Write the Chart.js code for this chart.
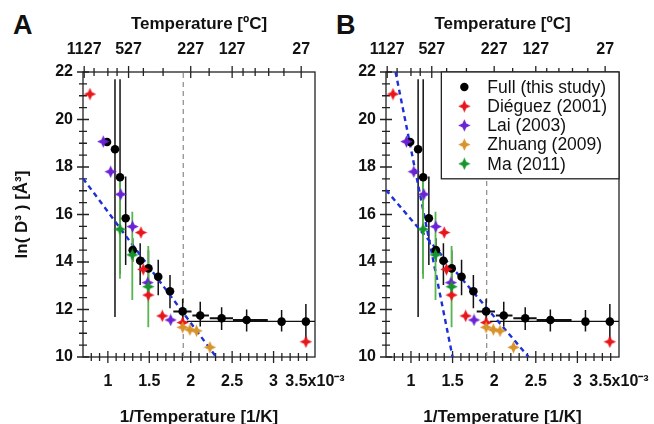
<!DOCTYPE html>
<html>
<head>
<meta charset="utf-8">
<script src="https://cdn.jsdelivr.net/npm/chart.js@4.4.0/dist/chart.umd.min.js"></script>
<style>
body { margin: 0; background: #fff; width: 654px; height: 424px; overflow: hidden; position: relative; }
canvas { position: absolute; top: 0; }
#chartA { left: 0; }
#chartB { left: 303px; }
.panel { position: absolute; top: 12px; font: bold 27px 'Liberation Sans', Arial, sans-serif; line-height: 27px; color: #111; }
</style>
</head>
<body>
<div class="panel" style="left:13px">A</div>
<div class="panel" style="left:336px">B</div>
<canvas id="chartA" width="380" height="424"></canvas>
<canvas id="chartB" width="380" height="424"></canvas>
<script>
// values (x in 1e-3 1/K, y = ln(D^3))
const fullX     = [0.99, 1.086, 1.147, 1.215, 1.30, 1.39, 1.49, 1.608, 1.75, 1.903, 2.115, 2.373, 2.675, 3.097, 3.39];
const fullY     = [19.05, 18.75, 17.57, 15.84, 14.5, 14.05, 13.73, 13.38, 12.77, 11.92, 11.75, 11.63, 11.56, 11.49, 11.49];
const fullYLow  = [19.05, 11.68, 13.5, 13.87, 14.0, 13.03, 13.0, 12.6, 12.05, 11.45, 11.28, 11.14, 11.07, 11.07, 10.72];
const fullYHigh = [19.05, 21.7, 21.7, 17.6, 15.0, 14.79, 14.5, 14.1, 13.45, 12.45, 12.33, 12.09, 12.0, 11.98, 12.23];
const fullXLow  = [0.99, 1.086, 1.147, 1.215, 1.30, 1.39, 1.49, 1.608, 1.75, 1.79, 2.02, 2.23, 2.51, 3.097, 3.39];
const fullXHigh = [0.99, 1.086, 1.147, 1.215, 1.30, 1.39, 1.49, 1.608, 1.75, 2.01, 2.22, 2.51, 2.93, 3.097, 3.39];

const dieguezX = [0.784, 1.40, 1.427, 1.488, 1.657, 1.903, 3.39];
const dieguezY = [21.07, 15.24, 13.69, 12.61, 11.73, 11.45, 10.64];

const laiX = [0.945, 1.034, 1.155, 1.298, 1.48, 1.758];
const laiY = [19.07, 17.8, 16.85, 15.49, 13.13, 11.56];

const zhuangX = [1.903, 1.99, 2.07, 2.232];
const zhuangY = [11.25, 11.15, 11.1, 10.41];

const maX     = [1.146, 1.295, 1.488];
const maY     = [15.38, 14.3, 12.96];
const maYLow  = [13.3, 12.4, 11.25];
const maYHigh = [17.45, 16.12, 14.67];

const fitAX  = [0.7, 2.307];  const fitAY  = [17.52, 10];
const fitB1X = [0.815, 1.5];  const fitB1Y = [22, 10];
const fitB2X = [0.7, 2.414];  const fitB2Y = [17.03, 10];
const plateauX = [1.95, 3.5]; const plateauY = [11.5, 11.5];
const cutoffX  = [1.91, 1.91]; const cutoffY = [10, 22];

const bottomTicks = [1, 1.5, 2, 2.5, 3, 3.5];
const yTicks = [10, 12, 14, 16, 18, 20, 22];
const topTicksC = [1127, 527, 227, 127, 27];
const topMinorC = [927, 727, 627, 427, 327, 177, 107, 87, 67, 47];

const FONT = "'Liberation Sans', Arial, sans-serif";
Chart.defaults.font.family = FONT;
Chart.defaults.color = '#111';

const invT = c => 1000 / (c + 273);

function starMark(color) {
    const c = document.createElement('canvas');
    c.width = 13; c.height = 13;
    const g = c.getContext('2d');
    g.fillStyle = color;
    g.beginPath();
    for (let k = 0; k < 8; k++) {
        const a = k * Math.PI / 4 - Math.PI / 2;
        const r = k % 2 === 0 ? 6.2 : 2.7;
        g.lineTo(6.5 + r * Math.cos(a), 6.5 + r * Math.sin(a));
    }
    g.closePath();
    g.fill();
    return c;
}

const pts = (xs, ys) => xs.map((x, i) => ({ x: x, y: ys[i] }));

function vbars(xs, lo, hi) {
    const out = [];
    xs.forEach((x, i) => { out.push({ x: x, y: lo[i] }, { x: x, y: hi[i] }, { x: x, y: null }); });
    return out;
}
function hbars(ys, lo, hi) {
    const out = [];
    ys.forEach((y, i) => { out.push({ x: lo[i], y: y }, { x: hi[i], y: y }, { x: hi[i], y: null }); });
    return out;
}

function lineSet(data, color, width, dash, order) {
    return { data: data, showLine: true, borderColor: color, borderWidth: width, borderDash: dash || [],
             pointRadius: 0, pointHoverRadius: 0, fill: false, order: order, tension: 0 };
}

// tick marks crossing the axes + frame
const axisMarks = {
    id: 'axisMarks',
    beforeDatasetsDraw(chart) {
        const { ctx, chartArea: a } = chart;
        const sx = chart.scales.x, sy = chart.scales.y, st = chart.scales.xTop;
        ctx.save();
        ctx.strokeStyle = '#222';
        ctx.lineWidth = 1.3;
        ctx.beginPath();
        for (let v = 10; v <= 22.001; v += 0.5) {
            const y = sy.getPixelForValue(v);
            const len = yTicks.includes(v) ? 6 : 4;
            ctx.moveTo(a.left - len, y); ctx.lineTo(a.left + len, y);
        }
        for (let v = 0.8; v <= 3.45; v += 0.1) {
            const x = sx.getPixelForValue(v);
            const major = bottomTicks.some(t => Math.abs(t - v) < 0.01);
            const len = major ? 6 : 4;
            ctx.moveTo(x, a.bottom - len); ctx.lineTo(x, a.bottom + len);
        }
        topTicksC.forEach(c => {
            const x = st.getPixelForValue(invT(c));
            ctx.moveTo(x, a.top - 6); ctx.lineTo(x, a.top + 6);
        });
        topMinorC.forEach(c => {
            const x = st.getPixelForValue(invT(c));
            ctx.moveTo(x, a.top - 4); ctx.lineTo(x, a.top + 4);
        });
        ctx.stroke();
        ctx.strokeRect(a.left, a.top, a.right - a.left, a.bottom - a.top);
        ctx.restore();
    }
};

// boxed legend in the top right corner of the plot
const boxLegend = {
    id: 'boxLegend',
    afterDatasetsDraw(chart, args, opts) {
        if (!opts.show) return;
        const { ctx, chartArea: a } = chart;
        const items = chart.data.datasets.filter(d => d.inLegend);
        ctx.save();
        ctx.font = '17.5px ' + FONT;
        const tw = Math.max(...items.map(d => ctx.measureText(d.label).width));
        const rowH = 19.2;
        const w = 46 + tw + 12, h = 30 + (items.length - 1) * rowH;
        const left = a.right - w, top = a.top;
        ctx.fillStyle = '#fff';
        ctx.fillRect(left, top, w, h);
        ctx.strokeStyle = '#222';
        ctx.lineWidth = 1.3;
        ctx.strokeRect(left, top, w, h);
        items.forEach((d, i) => {
            const cy = top + 15 + i * rowH;
            if (d.pointStyle === 'circle') {
                ctx.fillStyle = d.backgroundColor;
                ctx.beginPath(); ctx.arc(left + 23, cy, 4.2, 0, 2 * Math.PI); ctx.fill();
            } else {
                ctx.drawImage(d.pointStyle, left + 23 - 6.5, cy - 6.5);
            }
            ctx.fillStyle = '#111';
            ctx.textBaseline = 'middle';
            ctx.fillText(d.label, left + 46, cy + 1);
        });
        ctx.restore();
    }
};

function makeChart(id, panelB) {
    const datasets = [
        { label: 'Full (this study)', inLegend: true, data: pts(fullX, fullY), pointStyle: 'circle', pointRadius: 4.3,
          backgroundColor: '#000', borderWidth: 0, order: 5 },
        { label: 'Diéguez (2001)', inLegend: true, data: pts(dieguezX, dieguezY), pointStyle: starMark('#e8151b'),
          pointRadius: 6, backgroundColor: '#e8151b', order: 4 },
        { label: 'Lai (2003)', inLegend: true, data: pts(laiX, laiY), pointStyle: starMark('#6a22d4'),
          pointRadius: 6, backgroundColor: '#6a22d4', order: 3 },
        { label: 'Zhuang (2009)', inLegend: true, data: pts(zhuangX, zhuangY), pointStyle: starMark('#d8932b'),
          pointRadius: 6, backgroundColor: '#d8932b', order: 2 },
        { label: 'Ma (2011)', inLegend: true, data: pts(maX, maY), pointStyle: starMark('#17952c'),
          pointRadius: 6, backgroundColor: '#17952c', order: 1 },
        lineSet(vbars(maX, maYLow, maYHigh), '#58b44e', 1.8, null, 6),
        lineSet(vbars(fullX, fullYLow, fullYHigh), '#111', 1.5, null, 8),
        lineSet(hbars(fullY, fullXLow, fullXHigh), '#111', 2, null, 8),
        lineSet(pts(plateauX, plateauY), '#111', 1.2, null, 9),
        lineSet(pts(cutoffX, cutoffY), '#8a8a8a', 1.2, [5, 4], 10)
    ];
    if (panelB) {
        datasets.push(lineSet(pts(fitB1X, fitB1Y), '#1d2fd6', 2.4, [5, 4], 7));
        datasets.push(lineSet(pts(fitB2X, fitB2Y), '#1d2fd6', 2.4, [5, 4], 7));
    } else {
        datasets.push(lineSet(pts(fitAX, fitAY), '#1d2fd6', 2.4, [5, 4], 7));
    }

    const canvasW = 380;
    const plotRight = panelB ? 316 : 315;

    return new Chart(document.getElementById(id), {
        type: 'scatter',
        data: { datasets: datasets },
        options: {
            responsive: false,
            animation: false,
            events: [],
            layout: { padding: { left: 0, right: canvasW - plotRight, top: 0, bottom: 0 } },
            plugins: {
                legend: { display: false },
                tooltip: { enabled: false },
                boxLegend: { show: panelB }
            },
            scales: {
                x: {
                    type: 'linear', position: 'bottom', min: 0.7, max: 3.5,
                    afterBuildTicks: s => { s.ticks = bottomTicks.map(v => ({ value: v })); },
                    afterFit: s => { s.height = 67; },
                    grid: { display: false, drawTicks: false },
                    border: { display: false },
                    ticks: { padding: 15, autoSkip: false, maxRotation: 0, font: { size: 16, weight: 'bold' },
                             callback: v => v === 3.5 ? '3.5x10⁻³' : String(v) },
                    title: { display: true, text: '1/Temperature [1/K]', font: { size: 17, weight: 'bold', lineHeight: 1 },
                             padding: { top: 0, bottom: -2 } }
                },
                xTop: {
                    type: 'linear', position: 'top', min: 0.7, max: 3.5,
                    afterBuildTicks: s => { s.ticks = topTicksC.map(c => ({ value: invT(c) })); },
                    afterFit: s => { s.height = 72; },
                    grid: { display: false, drawTicks: false },
                    border: { display: false },
                    ticks: { padding: 13, autoSkip: false, maxRotation: 0, font: { size: 16, weight: 'bold' },
                             callback: (v, i) => String(topTicksC[i]) },
                    title: { display: true, text: 'Temperature [ºC]', font: { size: 17, weight: 'bold' },
                             padding: { top: 14, bottom: 0 } }
                },
                y: {
                    type: 'linear', position: 'left', min: 10, max: 22,
                    afterBuildTicks: s => { s.ticks = yTicks.map(v => ({ value: v })); },
                    afterFit: s => { s.width = 83; },
                    grid: { display: false, drawTicks: false },
                    border: { display: false },
                    ticks: { padding: 10, font: { size: 16, weight: 'bold' } },
                    title: { display: !panelB, text: 'ln( D³ ) [Å³]', font: { size: 17, weight: 'bold' },
                             padding: { top: 12, bottom: 0 } }
                }
            }
        },
        plugins: [axisMarks, boxLegend]
    });
}

makeChart('chartA', false);
makeChart('chartB', true);
</script>
</body>
</html>
